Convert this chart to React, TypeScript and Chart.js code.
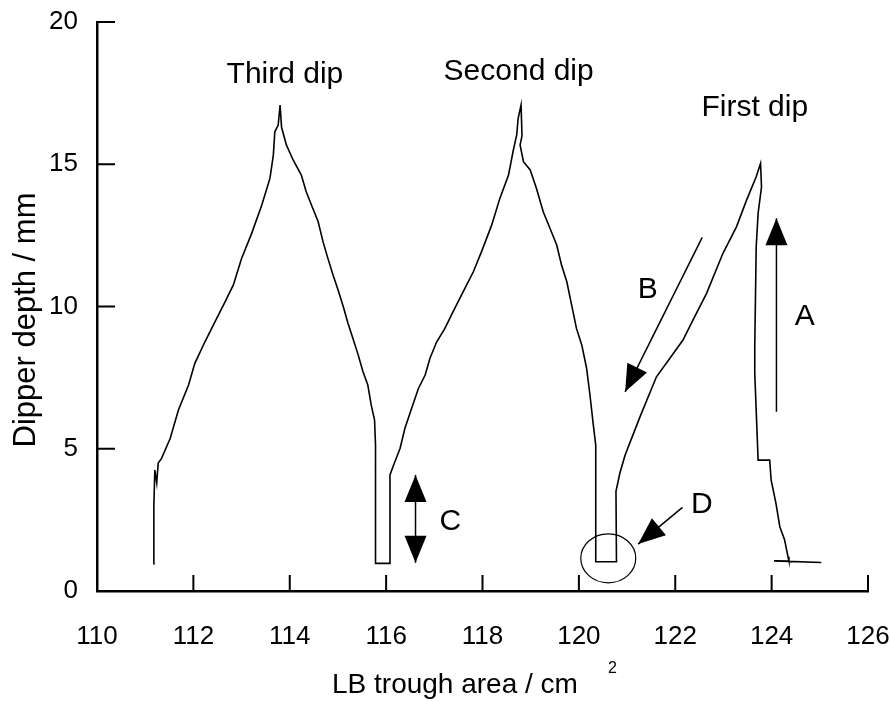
import { useEffect, useRef } from "react";
import { Chart, registerables } from "chart.js";

Chart.register(...registerables);

// Recorded dipper trace: LB trough area (cm²) and dipper depth (mm), in recording order
const troughArea = [
  111.17, 111.18, 111.2, 111.24, 111.27, 111.34, 111.52, 111.69, 111.9, 112.03,
  112.24, 112.45, 112.66, 112.83, 113.0, 113.21, 113.42, 113.59, 113.66, 113.69,
  113.76, 113.8, 113.83, 113.93, 114.07, 114.24, 114.34, 114.45, 114.59, 114.69,
  114.79, 114.9, 115.0, 115.11, 115.21, 115.31, 115.42, 115.52, 115.62, 115.69,
  115.76, 115.78, 115.78, 116.08, 116.08, 116.15, 116.29, 116.39, 116.53, 116.67,
  116.81, 116.91, 117.05, 117.22, 117.39, 117.6, 117.81, 117.98, 118.19, 118.36,
  118.54, 118.64, 118.71, 118.74, 118.8, 118.82, 118.78, 118.85, 118.99, 119.12,
  119.26, 119.4, 119.54, 119.64, 119.75, 119.85, 119.95, 120.06, 120.16, 120.23,
  120.3, 120.35, 120.35, 120.78, 120.77, 120.85, 120.96, 121.27, 121.61, 121.96,
  122.16, 122.37, 122.65, 122.99, 123.27, 123.48, 123.68, 123.77, 123.79, 123.72,
  123.68, 123.65, 123.65, 123.72, 123.96, 123.99, 124.09, 124.17, 124.27, 124.34,
  124.36, 124.05, 125.03,
];
const dipperDepth = [
  0.95, 3.0, 4.25, 3.8, 4.5, 4.66, 5.37, 6.36, 7.24, 8.0,
  8.76, 9.47, 10.17, 10.76, 11.69, 12.57, 13.57, 14.51, 15.33, 16.14,
  16.38, 17.08, 16.3, 15.68, 15.15, 14.62, 14.04, 13.57, 12.98, 12.28,
  11.7, 11.1, 10.6, 10.0, 9.4, 8.88, 8.3, 7.71, 7.24, 6.54,
  6.01, 5.13, 0.97, 0.97, 4.08, 4.4, 5.02, 5.72, 6.42, 7.12,
  7.59, 8.18, 8.76, 9.23, 9.82, 10.52, 11.22, 11.93, 12.86, 13.8,
  14.62, 15.5, 16.03, 16.61, 17.08, 16.0, 15.68, 15.09, 14.8, 14.15,
  13.33, 12.75, 12.16, 11.46, 10.87, 10.05, 9.23, 8.65, 7.83, 6.89,
  5.83, 5.13, 1.03, 1.03, 3.5, 4.14, 4.78, 6.13, 7.53, 8.35,
  8.82, 9.53, 10.46, 11.87, 12.8, 13.74, 14.56, 15.03, 14.2, 13.28,
  12.1, 8.59, 7.65, 4.6, 4.6, 3.9, 3.08, 2.26, 1.79, 1.2,
  1.05, 1.06, 1.0,
];

const xTickValues = [110, 112, 114, 116, 118, 120, 122, 124, 126];
const yTickValues = [0, 5, 10, 15, 20];

// Dip captions (baseline anchor in data units)
const dipNames = ["Third dip", "Second dip", "First dip"];
const dipLabelArea = [113.9, 118.75, 123.65];
const dipLabelDepth = [17.86, 17.96, 16.7];

// Lettered markers
const markerLetters = ["A", "B", "C", "D"];
const markerArea = [124.69, 121.43, 117.33, 122.55];
const markerDepth = [9.35, 10.3, 2.14, 2.74];

// Arrows that go with the letters
const arrowFromArea = [124.1, 122.56, 116.61, 122.15];
const arrowFromDepth = [6.3, 12.43, 4.08, 2.94];
const arrowToArea = [124.1, 120.96, 116.61, 121.23];
const arrowToDepth = [13.1, 7.0, 0.99, 1.65];
const arrowBothEnds = [false, false, true, false];

// Circled dwell at the bottom of the second dip
const circledArea = 120.61;
const circledDepth = 1.15;

const FONT = "'Liberation Sans', Arial, Helvetica, sans-serif";

function arrowHead(ctx: CanvasRenderingContext2D, fx: number, fy: number, tx: number, ty: number) {
  const len = 27;
  const half = 11;
  const a = Math.atan2(ty - fy, tx - fx);
  const bx = tx - len * Math.cos(a);
  const by = ty - len * Math.sin(a);
  ctx.beginPath();
  ctx.moveTo(tx, ty);
  ctx.lineTo(bx + half * Math.sin(a), by - half * Math.cos(a));
  ctx.lineTo(bx - half * Math.sin(a), by + half * Math.cos(a));
  ctx.closePath();
  ctx.fill();
}

const overlayPlugin = {
  id: "dipOverlay",
  afterDraw(chart: any) {
    const { ctx, chartArea, scales } = chart;
    const xs = scales.x;
    const ys = scales.y;
    ctx.save();
    ctx.strokeStyle = "#000";
    ctx.fillStyle = "#000";

    // inward tick marks
    ctx.lineWidth = 2;
    ctx.beginPath();
    for (const v of xTickValues) {
      if (v === xs.min) continue;
      const px = xs.getPixelForValue(v);
      ctx.moveTo(px, chartArea.bottom);
      ctx.lineTo(px, chartArea.bottom - 16);
    }
    for (const v of yTickValues) {
      if (v === ys.min) continue;
      const py = ys.getPixelForValue(v);
      ctx.moveTo(chartArea.left, py);
      ctx.lineTo(chartArea.left + 18, py);
    }
    ctx.stroke();

    // arrows
    ctx.lineWidth = 1.5;
    for (let i = 0; i < arrowFromArea.length; i++) {
      const fx = xs.getPixelForValue(arrowFromArea[i]);
      const fy = ys.getPixelForValue(arrowFromDepth[i]);
      const tx = xs.getPixelForValue(arrowToArea[i]);
      const ty = ys.getPixelForValue(arrowToDepth[i]);
      ctx.beginPath();
      ctx.moveTo(fx, fy);
      ctx.lineTo(tx, ty);
      ctx.stroke();
      arrowHead(ctx, fx, fy, tx, ty);
      if (arrowBothEnds[i]) arrowHead(ctx, tx, ty, fx, fy);
    }

    // circle around the bottom dwell
    ctx.lineWidth = 1.2;
    ctx.beginPath();
    ctx.ellipse(xs.getPixelForValue(circledArea), ys.getPixelForValue(circledDepth), 27.5, 24.5, 0, 0, Math.PI * 2);
    ctx.stroke();

    // captions
    ctx.textAlign = "center";
    ctx.textBaseline = "alphabetic";
    ctx.font = `30px ${FONT}`;
    for (let i = 0; i < dipNames.length; i++) {
      ctx.fillText(dipNames[i], xs.getPixelForValue(dipLabelArea[i]), ys.getPixelForValue(dipLabelDepth[i]));
    }
    for (let i = 0; i < markerLetters.length; i++) {
      ctx.fillText(markerLetters[i], xs.getPixelForValue(markerArea[i]), ys.getPixelForValue(markerDepth[i]));
    }

    // axis titles
    const midX = (chartArea.left + chartArea.right) / 2;
    const midY = (chartArea.top + chartArea.bottom) / 2;
    ctx.font = `28px ${FONT}`;
    ctx.textAlign = "left";
    const xTitle = "LB trough area / cm";
    const xLeft = midX - 150.5;
    const xBase = chartArea.bottom + 102;
    ctx.fillText(xTitle, xLeft, xBase);
    const w = ctx.measureText(xTitle).width;
    ctx.font = `16px ${FONT}`;
    ctx.fillText("2", xLeft + w + 30, xBase - 20);

    ctx.save();
    ctx.translate(35, midY + 13.5);
    ctx.rotate(-Math.PI / 2);
    ctx.textAlign = "center";
    ctx.font = `31px ${FONT}`;
    ctx.fillText("Dipper depth / mm", 0, 0);
    ctx.restore();

    ctx.restore();
  },
};

export default function App() {
  const canvasRef = useRef<HTMLCanvasElement | null>(null);

  useEffect(() => {
    const canvas = canvasRef.current;
    if (!canvas) return;
    const points = troughArea.map((x, i) => ({ x, y: dipperDepth[i] }));
    const chart = new Chart(canvas, {
      type: "scatter",
      data: {
        datasets: [
          {
            label: "Dipper trace",
            data: points,
            showLine: true,
            borderColor: "#000",
            borderWidth: 1.6,
            pointRadius: 0,
            pointHoverRadius: 0,
            tension: 0,
            fill: false,
          },
        ],
      },
      options: {
        animation: false,
        responsive: false,
        maintainAspectRatio: false,
        devicePixelRatio: 1,
        layout: { padding: { top: 22, right: 23, left: 0, bottom: 0 } },
        plugins: {
          legend: { display: false },
          tooltip: { enabled: false },
          title: { display: false },
        },
        scales: {
          x: {
            type: "linear",
            min: 110,
            max: 126,
            afterFit: (s: any) => {
              s.height = 110;
              s.paddingLeft = 0;
              s.paddingRight = 0;
            },
            afterBuildTicks: (s: any) => {
              s.ticks = xTickValues.map((value) => ({ value }));
            },
            ticks: {
              color: "#000",
              padding: 30,
              maxRotation: 0,
              font: { family: FONT, size: 26 },
            },
            grid: { drawOnChartArea: false, drawTicks: false },
            border: { display: true, color: "#000", width: 2.5 },
          },
          y: {
            type: "linear",
            min: 0,
            max: 20,
            afterFit: (s: any) => {
              s.width = 97;
              s.paddingTop = 0;
              s.paddingBottom = 0;
            },
            afterBuildTicks: (s: any) => {
              s.ticks = yTickValues.map((value) => ({ value }));
            },
            ticks: {
              color: "#000",
              padding: 19,
              font: { family: FONT, size: 26 },
            },
            grid: { drawOnChartArea: false, drawTicks: false },
            border: { display: true, color: "#000", width: 2.5 },
          },
        },
      },
      plugins: [overlayPlugin],
    });
    return () => chart.destroy();
  }, []);

  return (
    <div style={{ position: "fixed", left: 0, top: 0, width: 891, height: 701, background: "#fff" }}>
      <canvas ref={canvasRef} width={891} height={701} />
    </div>
  );
}
